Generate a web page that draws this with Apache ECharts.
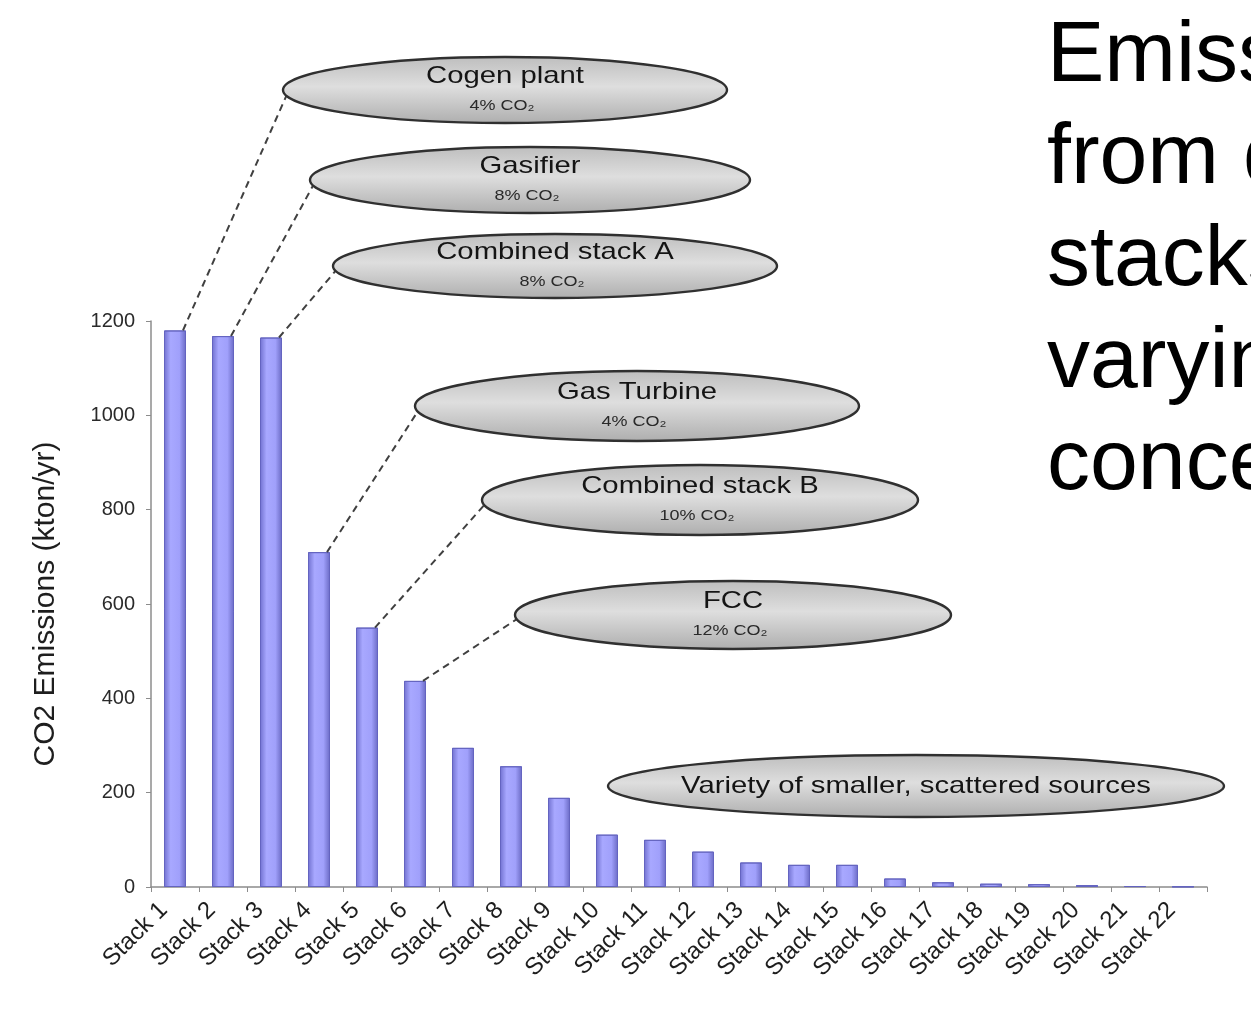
<!DOCTYPE html>
<html>
<head>
<meta charset="utf-8">
<script src="https://cdn.jsdelivr.net/npm/echarts@6.0.0/dist/echarts.min.js"></script>
<style>
html,body{margin:0;padding:0;background:#ffffff;overflow:hidden}
#chart{width:1251px;height:1009px}
</style>
</head>
<body>
<div id="chart"></div>
<script>
// ---- data ----
const categories = ['Stack 1','Stack 2','Stack 3','Stack 4','Stack 5','Stack 6','Stack 7','Stack 8','Stack 9','Stack 10','Stack 11','Stack 12','Stack 13','Stack 14','Stack 15','Stack 16','Stack 17','Stack 18','Stack 19','Stack 20','Stack 21','Stack 22'];
const emissions = [1180,1168,1165,710,550,437,295,256,189,111,100,75,52,47,47,18,10,7,6,4,2,1];
const yMin = 0, yMax = 1200, yStep = 200;
const yAxisTitle = 'CO2 Emissions (kton/yr)';
const sourceNames = ['Cogen plant','Gasifier','Combined stack A','Gas Turbine','Combined stack B','FCC','Variety of smaller, scattered sources'];
const sourceConc = ['4% CO₂','8% CO₂','8% CO₂','4% CO₂','10% CO₂','12% CO₂',''];
const sourceStack = [0,1,2,3,4,5,-1];
const slideLines = ['Emissions','from different','stacks with','varying','concentrations'];

// ---- layout (annotation placement, not data) ----
const bubbles = [
  {cx:505, cy:90,  rx:222, ry:33},
  {cx:530, cy:180, rx:220, ry:33},
  {cx:555, cy:266, rx:222, ry:32},
  {cx:637, cy:406, rx:222, ry:35},
  {cx:700, cy:500, rx:218, ry:35},
  {cx:733, cy:615, rx:218, ry:34},
  {cx:916, cy:786, rx:308, ry:31}
];

const chart = echarts.init(document.getElementById('chart'), null, {renderer:'canvas'});
const font = '"Liberation Sans", Arial, sans-serif';

const barColor = new echarts.graphic.LinearGradient(0,0,1,0,[
  {offset:0, color:'#7070cf'},
  {offset:0.3, color:'#a8a8ff'},
  {offset:0.7, color:'#a0a0fb'},
  {offset:1, color:'#6a6ac4'}
]);

chart.setOption({
  backgroundColor:'#ffffff',
  animation:false,
  grid:{left:151, right:44, top:321, bottom:122, outerBoundsMode:'none', containLabel:false},
  xAxis:{
    type:'category',
    data:categories,
    axisLine:{show:true, lineStyle:{color:'#8c8c8c', width:1.5}},
    axisTick:{show:true, length:5, lineStyle:{color:'#8c8c8c'}},
    axisLabel:{interval:0, rotate:45, margin:8, padding:[0,16,0,0], fontSize:24, color:'#1e1e1e', fontFamily:font}
  },
  yAxis:{
    type:'value', min:yMin, max:yMax, interval:yStep,
    axisLine:{show:true, lineStyle:{color:'#8c8c8c', width:1.5}},
    axisTick:{show:true, length:5, lineStyle:{color:'#8c8c8c'}},
    splitLine:{show:false},
    axisLabel:{fontSize:20, color:'#2a2a2a', margin:16, fontFamily:font, formatter:(v) => String(v)},
    name:yAxisTitle, nameLocation:'middle', nameRotate:90, nameGap:90,
    nameTextStyle:{fontSize:30, color:'#1e1e1e', fontFamily:font}
  },
  series:[{
    type:'bar',
    data:emissions,
    barWidth:22,
    itemStyle:{color:barColor, borderColor:'#6464c0', borderWidth:1}
  }]
});

// ---- annotations ----
const elements = [];
const bubbleFill = new echarts.graphic.LinearGradient(0,0,0,1,[
  {offset:0, color:'#bdbdbd'},
  {offset:0.45, color:'#dedede'},
  {offset:1, color:'#adadad'}
]);
bubbles.forEach((b,i) => {
  const s = sourceStack[i];
  if (s >= 0) {
    const p = chart.convertToPixel({xAxisIndex:0, yAxisIndex:0}, [s, emissions[s]]);
    elements.push({
      type:'line', z:10,
      shape:{x1:p[0]+8, y1:p[1], x2:b.cx-b.rx+5, y2:b.cy+2},
      style:{stroke:'#404040', lineWidth:2, lineDash:[7,5]}
    });
  }
  elements.push({
    type:'ellipse', z:11,
    shape:{cx:b.cx, cy:b.cy, rx:b.rx, ry:b.ry},
    style:{fill:bubbleFill, stroke:'#303030', lineWidth:2.4}
  });
  const single = !sourceConc[i];
  elements.push({
    type:'text', z:12,
    x:b.cx, y: single ? b.cy : b.cy-14, scaleX:1.22,
    style:{text:sourceNames[i], font:'24px ' + font, fill:'#141414',
           align:'center', verticalAlign:'middle', textAlign:'center', textVerticalAlign:'middle'}
  });
  if (!single) {
    elements.push({
      type:'text', z:12,
      x:b.cx-3, y:b.cy+16, scaleX:1.2,
      style:{text:sourceConc[i], font:'15px ' + font, fill:'#2a2a2a',
             align:'center', verticalAlign:'middle', textAlign:'center', textVerticalAlign:'middle'}
    });
  }
});
slideLines.forEach((t,i) => {
  elements.push({
    type:'text', z:12,
    x:1047, y:57 + i*102,
    style:{text:t, font:'86px ' + font, fill:'#000',
           align:'left', verticalAlign:'middle', textAlign:'left', textVerticalAlign:'middle'}
  });
});
chart.setOption({graphic:{elements:elements}});
</script>
</body>
</html>
